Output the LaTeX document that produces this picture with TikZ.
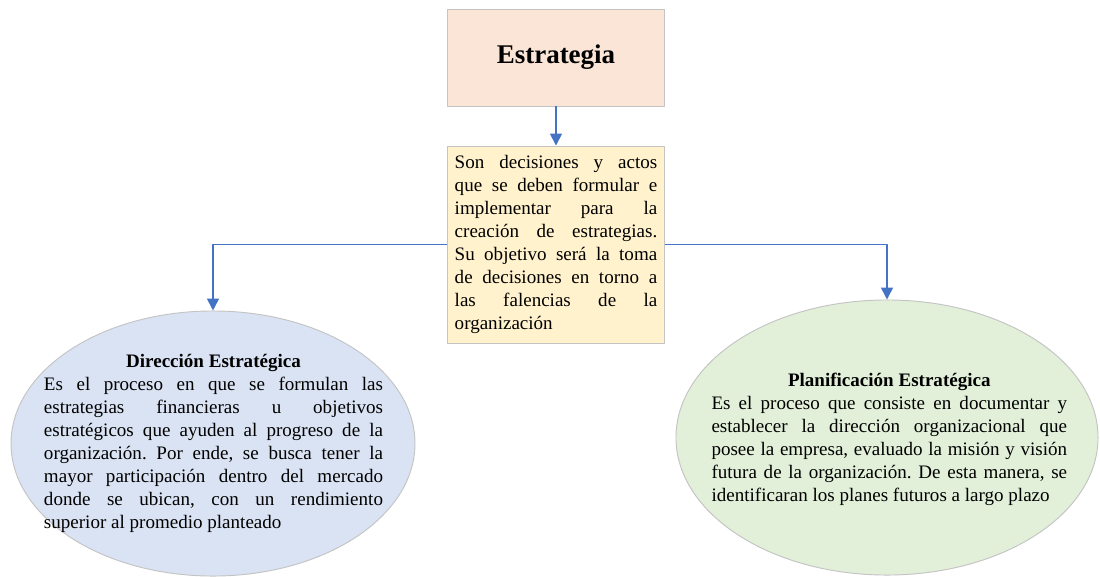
\documentclass[tikz,border=0pt]{standalone}
\usepackage{fontspec}
\setmainfont{Liberation Serif}
\usetikzlibrary{arrows.meta,shapes.geometric}
\definecolor{peach}{HTML}{FBE5D6}
\definecolor{cream}{HTML}{FFF2CC}
\definecolor{lightblue}{HTML}{DAE3F3}
\definecolor{lightgreen}{HTML}{E2F0D9}
\definecolor{edge}{HTML}{C4C4C4}
\definecolor{linkblue}{HTML}{4472C4}
\tolerance=10000
\hbadness=10000
\hyphenpenalty=10000
\frenchspacing
\setlength{\parindent}{0pt}

\begin{document}
\begin{tikzpicture}[
		x = 0.63pt,
		y = -0.63pt,
		line join = round,
		> = {Triangle[length=7.5pt,width=7.5pt]},
		box/.style = {draw=edge, line width=0.6pt, minimum width=137.3pt},
		blob/.style = {ellipse, draw=edge, line width=0.6pt, inner sep=0pt},
		body/.style = {text width=#1, align=justify, inner sep=0pt,
				font=\fontsize{12}{14.5}\selectfont},
		link/.style = {->, draw=linkblue, line width=1pt},
		]
\useasboundingbox	(0,0) rectangle (1100,576);
\node[box, fill=peach, minimum height=61.1pt, font=\fontsize{17}{20}\selectfont\bfseries]
	(estrategia) at (556,57.5) {Estrategia};
\node[box, fill=cream, minimum height=124.1pt, text width=127.6pt, inner xsep=4.85pt,
	align=justify, font=\fontsize{12}{14.5}\selectfont]
	(concepto) at (556,244.5) {Son decisiones y actos\linebreak
		que se deben formular e\linebreak
		implementar para la\linebreak
		creación de estrategias.\linebreak
		Su objetivo será la toma\linebreak
		de decisiones en torno a\linebreak
		las falencias de la\linebreak
		organización};
% ellipses and their texts
\node[blob, fill=lightblue, minimum width=254.5pt, minimum height=167pt]
	(direccion) at (213,443.5) {};
\node[body=213.6pt] (direccion-txt) at (213.5,443.5)
	{{\centering\bfseries Dirección Estratégica\par}
	Es el proceso en que se formulan las\linebreak
	estrategias financieras u objetivos\linebreak
	estratégicos que ayuden al progreso de la\linebreak
	organización. Por ende, se busca tener la\linebreak
	mayor participación dentro del mercado\linebreak
	donde se ubican, con un rendimiento\linebreak
	superior al promedio planteado};
\node[blob, fill=lightgreen, minimum width=265.9pt, minimum height=173.3pt]
	(planificacion) at (887,437.5) {};
\node[body=224pt] (planificacion-txt) at (889.3,439)
	{{\centering\bfseries Planificación Estratégica\par}
	Es el proceso que consiste en documentar y\linebreak
	establecer la dirección organizacional que\linebreak
	posee la empresa, evaluado la misión y visión\linebreak
	futura de la organización. De esta manera, se\linebreak
	identificaran los planes futuros a largo plazo};
% connectors
\draw[link]	(estrategia) -- (concepto);
\draw[link]	(concepto.west) -| (direccion.north);
\draw[link]	(concepto.east) -| (planificacion.north);
\end{tikzpicture}
\end{document}
